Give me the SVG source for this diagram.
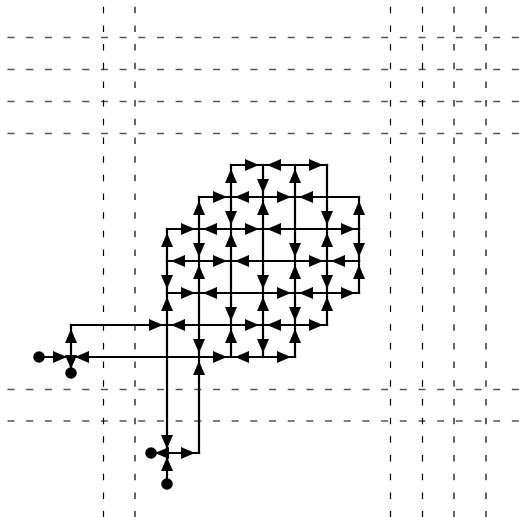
<svg xmlns="http://www.w3.org/2000/svg" width="519" height="517" viewBox="0 0 519 517">
<style>
.hd{stroke:#555;stroke-width:1.6;stroke-dasharray:7 11.68;fill:none}
.vd{stroke:#000;stroke-width:1.2;stroke-dasharray:6.5 12.18;fill:none}
.e{stroke:#000;stroke-width:2.2;fill:none;stroke-linecap:square;marker-end:url(#arr)}
.dot{fill:#000}
</style>
<defs>
<marker id="arr" markerUnits="userSpaceOnUse" markerWidth="18" markerHeight="12" refX="18" refY="6" orient="auto" overflow="visible">
<path d="M0,0 L14,6 L0,12 z" fill="#000"/>
</marker>
</defs>
<rect width="519" height="517" fill="#fff"/>
<g id="grid">
<line class="hd" x1="7.5" y1="37.5" x2="519" y2="37.5"/>
<line class="hd" x1="7.5" y1="69.5" x2="519" y2="69.5"/>
<line class="hd" x1="7.5" y1="101.5" x2="519" y2="101.5"/>
<line class="hd" x1="7.5" y1="133.5" x2="519" y2="133.5"/>
<line class="hd" x1="7.5" y1="389.5" x2="519" y2="389.5"/>
<line class="hd" x1="7.5" y1="421" x2="519" y2="421"/>
<line class="vd" x1="103.5" y1="6.7" x2="103.5" y2="517"/>
<line class="vd" x1="135" y1="6.7" x2="135" y2="517"/>
<line class="vd" x1="390.5" y1="6.7" x2="390.5" y2="517"/>
<line class="vd" x1="422.5" y1="6.7" x2="422.5" y2="517"/>
<line class="vd" x1="454" y1="6.7" x2="454" y2="517"/>
<line class="vd" x1="486" y1="6.7" x2="486" y2="517"/>
</g>
<g id="connectors">
<path class="e" d="M231,165 L263,165"/>
<path class="e" d="M295,165 L263,165"/>
<path class="e" d="M295,165 L327,165"/>
<path class="e" d="M199,197 L231,197"/>
<path class="e" d="M263,197 L231,197"/>
<path class="e" d="M263,197 L295,197"/>
<path class="e" d="M359,197 L295,197"/>
<path class="e" d="M167,229 L199,229"/>
<path class="e" d="M231,229 L199,229"/>
<path class="e" d="M231,229 L263,229"/>
<path class="e" d="M327,229 L263,229"/>
<path class="e" d="M327,229 L359,229"/>
<path class="e" d="M199,261 L167,261"/>
<path class="e" d="M199,261 L231,261"/>
<path class="e" d="M295,261 L231,261"/>
<path class="e" d="M295,261 L327,261"/>
<path class="e" d="M359,261 L327,261"/>
<path class="e" d="M167,293 L199,293"/>
<path class="e" d="M263,293 L199,293"/>
<path class="e" d="M263,293 L295,293"/>
<path class="e" d="M327,293 L295,293"/>
<path class="e" d="M327,293 L359,293"/>
<path class="e" d="M71,325 L167,325"/>
<path class="e" d="M231,325 L167,325"/>
<path class="e" d="M231,325 L263,325"/>
<path class="e" d="M295,325 L263,325"/>
<path class="e" d="M295,325 L327,325"/>
<path class="e" d="M39,357 L71,357"/>
<path class="e" d="M199,357 L71,357"/>
<path class="e" d="M199,357 L231,357"/>
<path class="e" d="M263,357 L231,357"/>
<path class="e" d="M263,357 L295,357"/>
<path class="e" d="M167,453 L151,453"/>
<path class="e" d="M167,453 L199,453"/>
<path class="e" d="M167,261 L167,229"/>
<path class="e" d="M167,261 L167,293"/>
<path class="e" d="M167,325 L167,293"/>
<path class="e" d="M167,325 L167,453"/>
<path class="e" d="M167,484 L167,453"/>
<path class="e" d="M199,229 L199,197"/>
<path class="e" d="M199,229 L199,261"/>
<path class="e" d="M199,293 L199,261"/>
<path class="e" d="M199,293 L199,357"/>
<path class="e" d="M199,453 L199,357"/>
<path class="e" d="M231,197 L231,165"/>
<path class="e" d="M231,197 L231,229"/>
<path class="e" d="M231,261 L231,229"/>
<path class="e" d="M231,261 L231,325"/>
<path class="e" d="M231,357 L231,325"/>
<path class="e" d="M263,165 L263,197"/>
<path class="e" d="M263,229 L263,197"/>
<path class="e" d="M263,229 L263,293"/>
<path class="e" d="M263,325 L263,293"/>
<path class="e" d="M263,325 L263,357"/>
<path class="e" d="M295,197 L295,165"/>
<path class="e" d="M295,197 L295,261"/>
<path class="e" d="M295,293 L295,261"/>
<path class="e" d="M295,293 L295,325"/>
<path class="e" d="M295,357 L295,325"/>
<path class="e" d="M327,165 L327,229"/>
<path class="e" d="M327,261 L327,229"/>
<path class="e" d="M327,261 L327,293"/>
<path class="e" d="M327,325 L327,293"/>
<path class="e" d="M359,229 L359,197"/>
<path class="e" d="M359,229 L359,261"/>
<path class="e" d="M359,293 L359,261"/>
<path class="e" d="M71,357 L71,325"/>
<path class="e" d="M71,357 L71,373"/>
</g>
<g id="node-src-left"><circle class="dot" cx="39" cy="357" r="5.8"/></g>
<g id="node-sink-left"><circle class="dot" cx="71" cy="373" r="5.8"/></g>
<g id="node-sink-bottom"><circle class="dot" cx="151" cy="453" r="5.8"/></g>
<g id="node-src-bottom"><circle class="dot" cx="167" cy="484" r="5.8"/></g>
</svg>
